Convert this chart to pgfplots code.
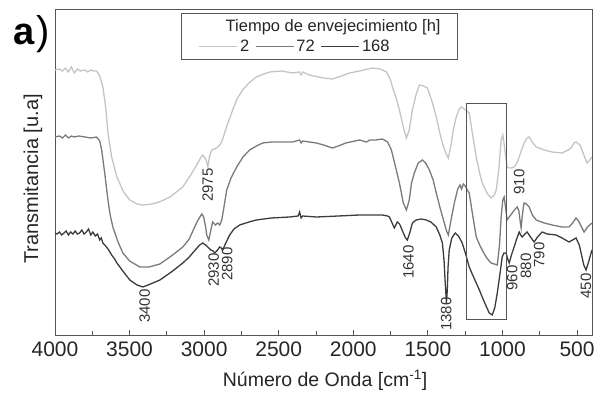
\documentclass[border=0pt]{standalone}
\usepackage{pgfplots}
\pgfplotsset{compat=1.18}
\usepackage{fontspec}
\setmainfont{Liberation Sans}
\definecolor{cLight}{RGB}{196,196,196}
\definecolor{cMed}{RGB}{122,122,122}
\definecolor{cDark}{RGB}{60,60,60}
\definecolor{cAxis}{RGB}{85,85,85}
\begin{document}
\begin{tikzpicture}
\useasboundingbox (-55pt,-58pt) rectangle (541pt,335pt);
\begin{axis}[
  at={(0,0)}, anchor=south west,
  scale only axis, width=537pt, height=326pt,
  xmin=400, xmax=4000, ymin=0, ymax=326,
  x dir=reverse,
  xtick={500,1000,...,4000},
  minor x tick num=1,
  xtick pos=bottom, tick align=inside,
  major tick length=5pt, minor tick length=4pt,
  ytick=\empty,
  axis line style={cAxis, line width=0.9pt},
  every tick/.style={cAxis, line width=0.9pt},
  /pgf/number format/assume math mode=true,
  /pgf/number format/1000 sep={},
  tick label style={font=\fontsize{21}{22}\selectfont, text=black!85},
  xticklabel style={yshift=-3pt},
  xlabel={Número de Onda [cm\textsuperscript{-1}]},
  ylabel={Transmitancia [u.a]},
  xlabel style={at={(axis description cs:0.503,0)}, anchor=center, yshift=-45.5pt, font=\fontsize{19.5}{20}\selectfont, text=black!85},
  ylabel style={at={(axis description cs:0,0.479)}, anchor=center, yshift=22pt, font=\fontsize{20}{21}\selectfont, text=black!85},
  clip=true,
  legend columns=3,
  legend style={draw=none, fill=none, at={(rel axis cs:0.262,0.884)}, anchor=west,
    font=\fontsize{16.5}{17}\selectfont, text=black!85,
    /tikz/every even column/.append style={column sep=4pt}},
  legend image code/.code={\draw[#1, line width=1.2pt] (0pt,0pt) -- (38pt,0pt);},
  every axis plot/.append style={line width=1.3pt},
]
% legend box
\draw[cAxis, line width=0.9pt, fill=white] (rel axis cs:0.235,0.846) rectangle (rel axis cs:0.750,0.985);
\node[font=\fontsize{16.5}{17}\selectfont, text=black!85] at (rel axis cs:0.518,0.945) {Tiempo de envejecimiento [h]};

\addplot[cLight] coordinates {
(4000,265)(3970,266)(3950,264)(3930,267)(3910,263)(3890,268)(3870,262)(3850,266)(3830,264)(3800,265)(3780,263)(3760,265)(3740,264)(3721,264)
(3700,259)(3679,248)(3660,228)(3645,202)(3620,178)(3585,158)(3540,143)(3498,135)(3450,131)(3411,130)(3350,131)(3300,133)(3230,138)(3143,148)
(3090,160)(3050,170)(3025,177)(3010,180)(2995,177)(2985,174)(2975,168)(2965,178)(2950,185)(2930,186)(2909,188)(2890,191)(2876,196)(2850,208)
(2809,225)(2780,236)(2742,245)(2700,252)(2650,258)(2600,261)(2561,263)(2480,264)(2407,262)(2360,263)(2350,260)(2340,263)(2294,260)(2200,257)
(2140,256)(2080,259)(2026,262)(1959,264)(1900,266)(1872,267)(1820,266)(1778,263)(1750,255)(1738,248)(1715,238)(1691,225)(1660,205)(1644,197)
(1625,205)(1604,225)(1580,240)(1557,250)(1530,249)(1504,247)(1475,235)(1444,218)(1420,202)(1403,192)(1380,182)(1363,177)(1345,190)(1330,205)
(1310,218)(1290,226)(1276,228)(1255,226)(1240,224)(1223,222)(1200,200)(1176,178)(1150,160)(1136,152)(1100,141)(1076,137)(1055,140)(1042,145)
(1025,165)(1009,195)(998,200)(988,190)(980,180)(969,168)(955,167)(942,167)(925,168)(910,170)(895,175)(888,178)(870,186)(855,192)(835,197)(821,198)
(800,193)(774,188)(720,185)(667,183)(600,182)(560,185)(540,187)(520,192)(507,193)(490,191)(480,190)(467,185)(450,178)(433,172)(415,175)(400,178)
};
\addlegendentry{2}

\addplot[cMed] coordinates {
(4000,198)(3970,199)(3950,197)(3930,200)(3910,197)(3890,199)(3870,198)(3840,199)(3800,198)(3760,197)(3721,198)
(3700,194)(3687,185)(3665,160)(3645,135)(3630,120)(3612,108)(3580,94)(3545,82)(3500,74)(3431,68)(3370,68)(3297,71)(3220,79)(3143,88)
(3100,96)(3076,104)(3045,114)(3016,121)(3003,118)(2990,108)(2983,100)(2969,95)(2955,105)(2943,113)(2925,110)(2909,112)(2895,110)(2882,115)
(2865,130)(2849,145)(2820,157)(2782,168)(2740,178)(2695,185)(2650,189)(2608,192)(2550,193)(2500,193)(2407,193)(2360,195)(2350,192)(2340,194)
(2247,192)(2200,190)(2140,187)(2100,189)(2050,192)(1959,195)(1912,193)(1890,195)(1850,195)(1805,196)(1770,193)(1745,185)(1720,170)(1691,152)
(1665,132)(1644,125)(1625,135)(1610,152)(1591,162)(1565,172)(1537,175)(1515,172)(1490,165)(1465,155)(1444,142)(1420,128)(1390,112)(1375,104)
(1363,100)(1345,115)(1323,132)(1300,146)(1285,150)(1275,146)(1262,151)(1250,149)(1236,145)(1223,142)(1200,120)(1176,98)(1150,89)(1136,85)
(1110,78)(1089,74)(1076,72)(1055,71)(1035,70)(1020,90)(1009,118)(998,135)(989,138)(980,128)(969,115)(955,118)(935,122)(915,126)(901,128)
(890,124)(880,112)(875,107)(868,118)(860,128)(855,132)(840,131)(821,128)(800,120)(774,115)(720,112)(667,110)(600,108)(554,108)(530,112)
(507,117)(490,114)(470,108)(453,103)(430,108)(400,112)
};
\addlegendentry{72}

\addplot[cDark] coordinates {
(4000,102)(3985,101)(3970,103)(3955,100)(3940,102)(3925,104)(3910,100)(3895,103)(3880,101)(3865,104)(3850,101)(3835,102)(3820,105)(3805,101)
(3790,103)(3775,106)(3760,100)(3746,103)(3730,99)(3715,101)(3700,95)(3690,97)(3679,92)(3660,89)(3640,85)(3620,80)(3600,76)(3585,72)
(3560,67)(3530,61)(3498,55)(3450,50)(3411,48)(3360,51)(3297,55)(3220,63)(3143,72)(3100,78)(3060,85)(3030,90)(3010,92)(2990,90)(2976,88)
(2955,85)(2940,84)(2929,82)(2910,85)(2896,88)(2885,87)(2876,85)(2855,92)(2829,100)(2800,106)(2762,110)(2700,113)(2650,115)(2550,117)
(2427,118)(2370,119)(2360,123)(2350,117)(2340,119)(2247,118)(2100,119)(1959,120)(1900,120)(1805,120)(1770,119)(1758,118)(1740,112)
(1725,107)(1712,111)(1705,113)(1690,111)(1670,104)(1650,97)(1638,95)(1622,102)(1604,112)(1580,115)(1545,116)(1510,115)(1480,113)(1444,108)
(1420,100)(1403,92)(1392,75)(1385,55)(1376,32)(1370,45)(1365,68)(1357,85)(1340,97)(1317,102)(1295,99)(1270,92)(1245,80)(1223,68)(1200,60)
(1176,52)(1155,45)(1136,38)(1110,29)(1089,22)(1069,20)(1052,27)(1035,42)(1018,60)(1002,78)(990,82)(976,82)(965,76)(955,72)(940,80)
(922,88)(905,96)(888,103)(878,100)(868,98)(850,101)(835,103)(812,98)(788,93)(765,98)(734,103)(700,101)(641,100)(600,97)(554,93)
(530,95)(507,97)(485,90)(470,80)(455,70)(440,65)(425,72)(410,80)(400,85)
};
\addlegendentry{168}

% highlight box
\addplot[cAxis, line width=0.9pt, forget plot] coordinates {(1243,16)(976,16)(976,232)(1243,232)(1243,16)};

% band labels
\begin{scope}[every node/.style={rotate=90, anchor=center, font=\fontsize{15}{16}\selectfont, text=black!80}]
\node at (axis cs:2976,150) {2975};
\node at (axis cs:2936,65) {2930};
\node at (axis cs:2846,71) {2890};
\node at (axis cs:3398,29) {3400};
\node at (axis cs:1631,73) {1640};
\node at (axis cs:1377,21) {1380};
\node at (axis cs:888,153) {910};
\node at (axis cs:935,57) {960};
\node at (axis cs:843,69) {880};
\node at (axis cs:754,80) {790};
\node at (axis cs:440,49) {450};
\end{scope}
\end{axis}
\node[anchor=base west, inner sep=0pt, font=\fontsize{38}{40}\bfseries\selectfont] at (-42pt,290pt) {a};
\node[anchor=base west, inner sep=0pt, font=\fontsize{40}{42}\selectfont] at (-19pt,290pt) {)};
\end{tikzpicture}
\end{document}
